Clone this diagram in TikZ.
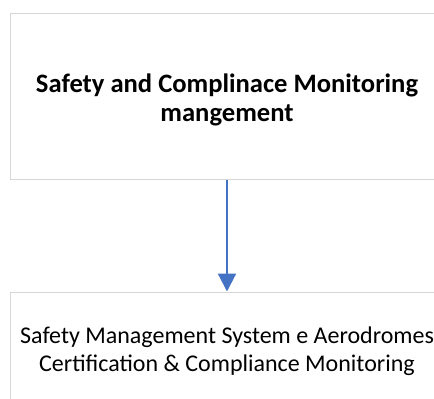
\documentclass[tikz,border=0pt]{standalone}
\usepackage{fontspec}
\setmainfont{Carlito}
\usetikzlibrary{arrows.meta}
\definecolor{boxgray}{HTML}{D6D6D6}
\definecolor{flowblue}{HTML}{4472C4}
\begin{document}
\begin{tikzpicture}[x=1pt,y=1pt,
  frame/.style={draw=boxgray,line width=1pt,minimum width=500pt,inner sep=0pt},
  stagetext/.style={align=center,inner sep=0pt,font=\fontsize{24}{28}\selectfont},
  flow/.style={draw=flowblue,line width=2.2pt,-{Triangle[width=18pt,length=18pt]}}]
  \useasboundingbox (0,0) rectangle (434,-399);
  % boxes run past the right and bottom edge
  \node[frame,minimum height=165.5pt] (monitorbox) at (260.5,-96.25) {};
  \node[frame,minimum height=114pt] (smsbox) at (260.5,-349) {};
  \node[stagetext,font=\fontsize{26.6}{29}\selectfont\bfseries]
    (monitor) at (227,-100) {Safety and Complinace Monitoring\\mangement};
  \node[stagetext] (sms) at (227,-351) {Safety Management System e Aerodromes\\Certification \& Compliance Monitoring};
  \draw[flow] (monitorbox.south -| monitor) -- (smsbox.north -| sms);
\end{tikzpicture}
\end{document}
